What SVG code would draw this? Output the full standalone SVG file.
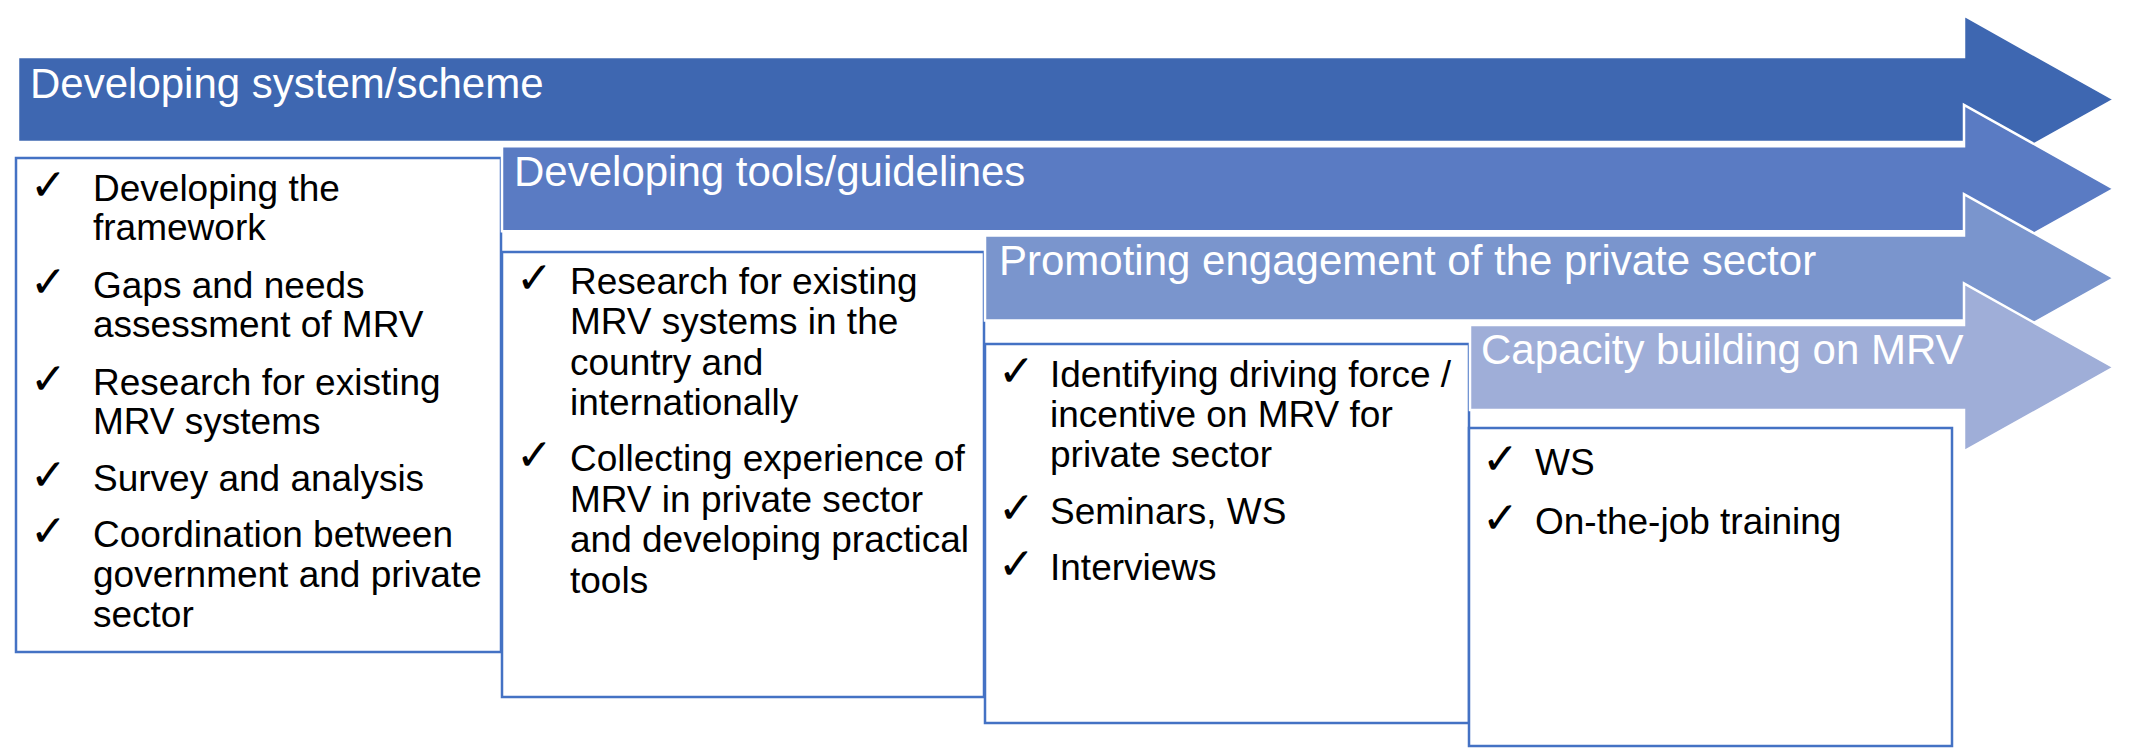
<svg xmlns="http://www.w3.org/2000/svg" width="2134" height="748" viewBox="0 0 2134 748">
<style>
.arrow{stroke:#FFFFFF;stroke-width:2.5}
.a1{fill:#3E67B1}
.a2{fill:#5A7BC3}
.a3{fill:#7A95CD}
.a4{fill:#9FAED8}
.box{fill:#FFFFFF;stroke:#4472C4;stroke-width:2.5}
.hd{font-family:"Liberation Sans",Arial,sans-serif;font-size:42px;fill:#FFFFFF}
.li{font-family:"Liberation Sans",Arial,sans-serif;font-size:37px;fill:#000000}
.ck{font-family:"DejaVu Sans",sans-serif;font-size:44px;fill:#000000}
</style>
<rect width="2134" height="748" fill="#FFFFFF"/>
<g id="stage1">
<path class="arrow a1" d="M18,57 H1964 V15.5 L2114,99.5 L1964,183.5 V142 H18 Z"/>
<text class="hd" x="30" y="98">Developing system/scheme</text>
</g>
<g id="box1">
<rect class="box" x="16" y="158" width="485" height="494"/>
<text class="ck" x="30" y="200">✓</text><text class="li" x="93" y="201">Developing the</text>
<text class="li" x="93" y="240">framework</text>
<text class="ck" x="30" y="297">✓</text><text class="li" x="93" y="298">Gaps and needs</text>
<text class="li" x="93" y="337">assessment of MRV</text>
<text class="ck" x="30" y="394">✓</text><text class="li" x="93" y="395">Research for existing</text>
<text class="li" x="93" y="434">MRV systems</text>
<text class="ck" x="30" y="490">✓</text><text class="li" x="93" y="491">Survey and analysis</text>
<text class="ck" x="30" y="546">✓</text><text class="li" x="93" y="547">Coordination between</text>
<text class="li" x="93" y="587">government and private</text>
<text class="li" x="93" y="627">sector</text>
</g>
<g id="stage2">
<path class="arrow a2" d="M502,146.3 H1964 V104.8 L2114,188.8 L1964,272.8 V231.3 H502 Z"/>
<text class="hd" x="514" y="186">Developing tools/guidelines</text>
</g>
<g id="box2">
<rect class="box" x="502" y="252" width="482" height="445"/>
<text class="ck" x="516" y="293">✓</text><text class="li" x="570" y="294">Research for existing</text>
<text class="li" x="570" y="334">MRV systems in the</text>
<text class="li" x="570" y="375">country and</text>
<text class="li" x="570" y="415">internationally</text>
<text class="ck" x="516" y="470">✓</text><text class="li" x="570" y="471">Collecting experience of</text>
<text class="li" x="570" y="512">MRV in private sector</text>
<text class="li" x="570" y="552">and developing practical</text>
<text class="li" x="570" y="593">tools</text>
</g>
<g id="stage3">
<path class="arrow a3" d="M985,235.6 H1964 V194.1 L2114,278.1 L1964,362.1 V320.6 H985 Z"/>
<text class="hd" x="999" y="275">Promoting engagement of the private sector</text>
</g>
<g id="box3">
<rect class="box" x="985" y="344" width="484" height="379"/>
<text class="ck" x="998" y="386">✓</text><text class="li" x="1050" y="387">Identifying driving force /</text>
<text class="li" x="1050" y="427">incentive on MRV for</text>
<text class="li" x="1050" y="467">private sector</text>
<text class="ck" x="998" y="523">✓</text><text class="li" x="1050" y="524">Seminars, WS</text>
<text class="ck" x="998" y="579">✓</text><text class="li" x="1050" y="580">Interviews</text>
</g>
<g id="stage4">
<path class="arrow a4" d="M1470,324.9 H1964 V283.4 L2114,367.4 L1964,451.4 V409.9 H1470 Z"/>
<text class="hd" x="1481" y="364">Capacity building on MRV</text>
</g>
<g id="box4">
<rect class="box" x="1469" y="428" width="483" height="318"/>
<text class="ck" x="1482" y="474">✓</text><text class="li" x="1535" y="475">WS</text>
<text class="ck" x="1482" y="533">✓</text><text class="li" x="1535" y="534">On-the-job training</text>
</g>
<g id="connectors"></g>
</svg>
